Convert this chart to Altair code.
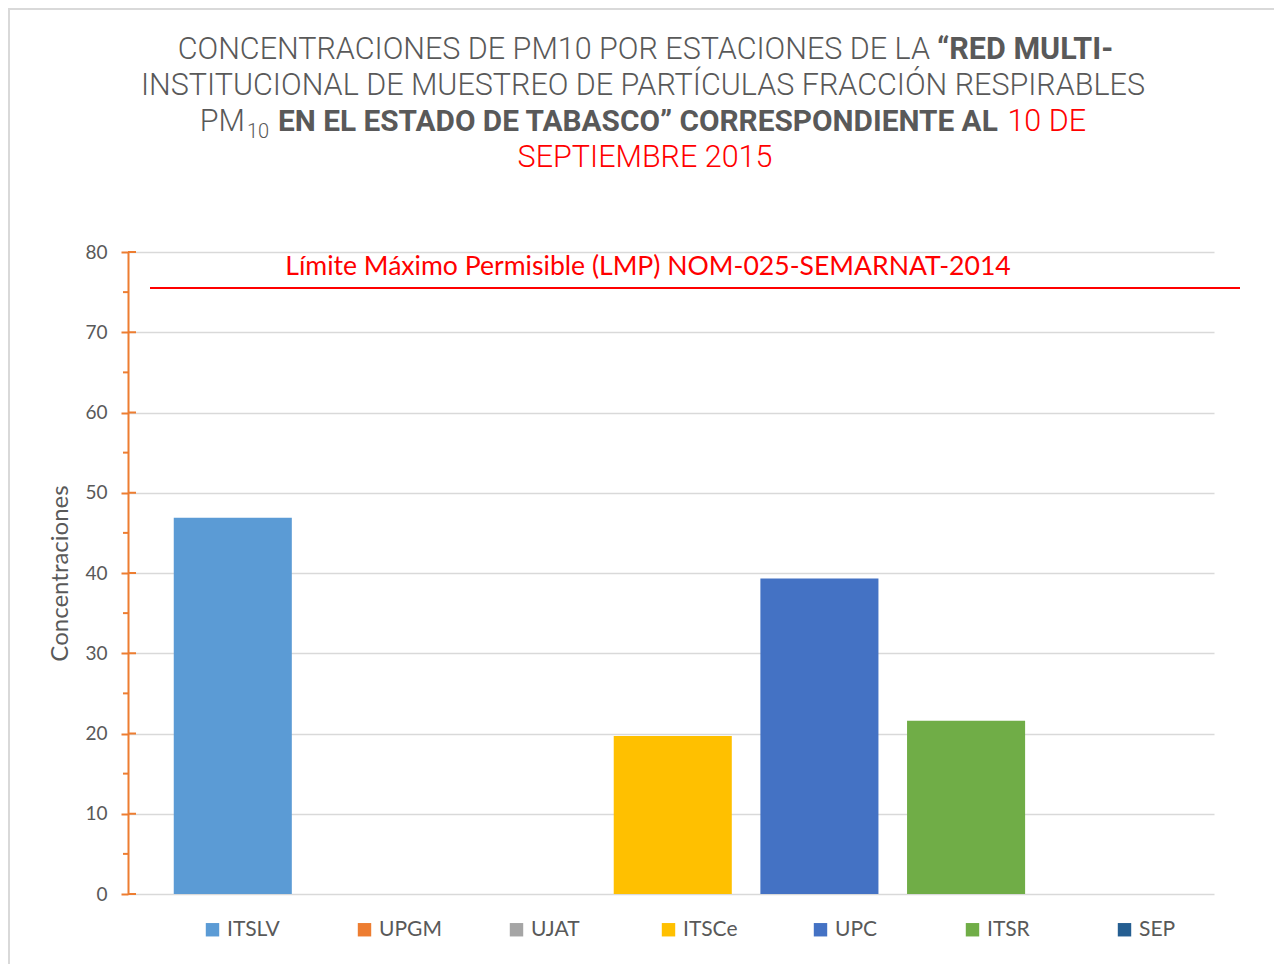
import altair as alt
import pandas as pd

# ---------------- data ----------------
ESTACIONES = ["ITSLV", "UPGM", "UJAT", "ITSCe", "UPC", "ITSR", "SEP"]
VALORES = [46.9, 0, 0, 19.7, 39.3, 21.6, 0]
COLORES = ["#5B9BD5", "#ED7D31", "#A5A5A5", "#FFC000", "#4472C4", "#70AD47", "#255E91"]
Y_TICKS = [0, 10, 20, 30, 40, 50, 60, 70, 80]
Y_MINOR = [5, 15, 25, 35, 45, 55, 65, 75]
LMP = 75.5
LMP_LABEL = "Límite Máximo Permisible (LMP) NOM-025-SEMARNAT-2014"
Y_TITLE = "Concentraciones"
TITLE_L1_A = "CONCENTRACIONES  DE PM10 POR ESTACIONES DE LA"
TITLE_L1_B = "“RED MULTI-"
TITLE_L2 = "INSTITUCIONAL DE MUESTREO DE PARTÍCULAS FRACCIÓN RESPIRABLES"
TITLE_L3_A = "PM"
TITLE_L3_SUB = "10"
TITLE_L3_B = "EN EL ESTADO DE TABASCO” CORRESPONDIENTE AL"
TITLE_L3_C = "10 DE"
TITLE_L4 = "SEPTIEMBRE 2015"

# ---------------- style ----------------
W, H = 1086, 642
GRAY = "#595959"
ORANGE = "#ED7D31"
RED = "#FF0000"
GRID = "#D9D9D9"
FONT = "Lato"
TFONT = "Roboto"
TS = 30.5

df = pd.DataFrame({"Estación": ESTACIONES, "Valor": VALORES})
ONE = pd.DataFrame({"k": [0]})

y_scale = alt.Scale(domain=[0, 80], nice=False)
y_axis = alt.Axis(
    values=Y_TICKS, title=Y_TITLE, domainColor=ORANGE, domainWidth=2,
    tickColor=ORANGE, tickWidth=2, tickSize=7, labelPadding=14,
    labelFontSize=19, labelColor=GRAY, labelFont=FONT,
    titleFontSize=24, titleColor=GRAY, titleFont=FONT, titleFontWeight="normal",
    titlePadding=12, gridColor=GRID, gridWidth=1.5,
)

# outer chart frame (left and top edges; the rest lies beyond the picture)
frame_left = alt.Chart(ONE).mark_rule(color=GRID, strokeWidth=2).encode(
    x=alt.value(-119), y=alt.value(-244), y2=alt.value(760)
)
frame_top = alt.Chart(ONE).mark_rule(color=GRID, strokeWidth=2).encode(
    y=alt.value(-243), x=alt.value(-120), x2=alt.value(1200)
)

bars = alt.Chart(df).mark_bar().encode(
    x=alt.X("Estación:N", sort=ESTACIONES, axis=None,
            scale=alt.Scale(paddingInner=0.195, paddingOuter=0.3, align=0.52)),
    y=alt.Y("Valor:Q", scale=y_scale, axis=y_axis),
    color=alt.Color(
        "Estación:N", sort=ESTACIONES,
        scale=alt.Scale(domain=ESTACIONES, range=COLORES),
        legend=alt.Legend(
            title=None, orient="none", legendX=74, legendY=667,
            direction="horizontal", columns=7, gridAlign="all",
            columnPadding=64, symbolType="square", symbolSize=180,
            symbolStrokeWidth=0, labelFontSize=21, labelColor=GRAY,
            labelFont=FONT, labelOffset=4,
        ),
    ),
)

major_in = alt.Chart(pd.DataFrame({"Valor": Y_TICKS})).mark_rule(
    color=ORANGE, strokeWidth=2
).encode(y=alt.Y("Valor:Q", scale=y_scale, axis=y_axis), x=alt.value(0), x2=alt.value(8))

minor = alt.Chart(pd.DataFrame({"Valor": Y_MINOR})).mark_rule(
    color=ORANGE, strokeWidth=2
).encode(y=alt.Y("Valor:Q", scale=y_scale, axis=y_axis), x=alt.value(-5), x2=alt.value(0))

lmp_rule = alt.Chart(ONE).mark_rule(color=RED, strokeWidth=2).encode(
    y=alt.datum(LMP), x=alt.value(22), x2=alt.value(1112)
)
lmp_text = alt.Chart(ONE).mark_text(
    text=LMP_LABEL, color=RED, fontSize=26.6, font=FONT, baseline="middle", dy=-21
).encode(y=alt.datum(LMP), x=alt.value(520))


def txt(text, x, y, size, weight=300, color=GRAY, align="center"):
    return alt.Chart(ONE).mark_text(
        text=text, align=align, baseline="alphabetic", fontSize=size,
        fontWeight=weight, color=color, font=TFONT,
    ).encode(x=alt.value(x), y=alt.value(y))


titles = [
    txt(TITLE_L1_A, 802, -193, TS, align="right"),
    txt(TITLE_L1_B, 809, -193, TS, weight="bold", align="left"),
    txt(TITLE_L2, 515, -157, TS),
    txt(TITLE_L3_A, 117, -121, TS, align="right"),
    txt(TITLE_L3_SUB, 119, -114, 20, align="left"),
    txt(TITLE_L3_B, 150, -121, 29.8, weight="bold", align="left"),
    txt(TITLE_L3_C, 958, -121, TS, color=RED, align="right"),
    txt(TITLE_L4, 517, -85, TS, color=RED),
]

chart = alt.layer(frame_left, frame_top, bars, major_in, minor, lmp_rule, lmp_text, *titles).properties(
    width=W, height=H,
    padding={"left": 120, "top": 244, "right": 60, "bottom": 70},
    autosize=alt.AutoSizeParams(type="none"),
).configure(font=FONT).configure_view(strokeWidth=0, stroke="transparent")

chart.save("out.html", embed_options={"renderer": "svg", "actions": False})
